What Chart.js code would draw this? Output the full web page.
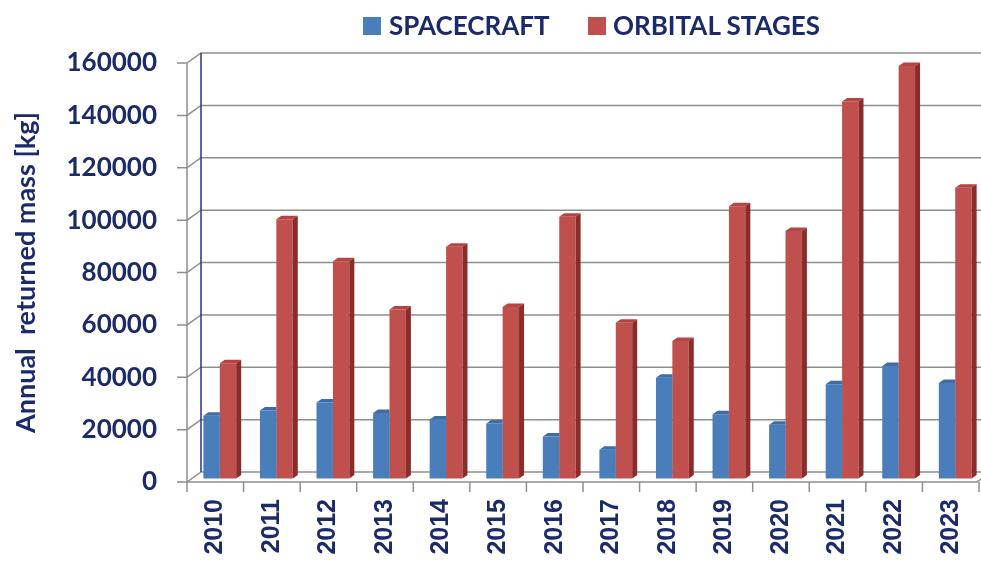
<!DOCTYPE html>
<html>
<head>
<meta charset="utf-8">
<title>Annual returned mass</title>
<script src="https://cdn.jsdelivr.net/npm/chart.js@4.4.0/dist/chart.umd.min.js"></script>
<style>
    html, body { margin: 0; padding: 0; background: #fff; }
    #wrap { position: relative; width: 981px; height: 563px; }
    #legend { position: absolute; top: 0; left: 0; font: bold 26px Lato, sans-serif; color: #1b2a6b; }
    .item { position: absolute; top: 10px; white-space: nowrap; line-height: 30px; }
    .box { position: absolute; width: 18px; height: 18px; }
</style>
</head>
<body>
<div id="wrap">
    <canvas id="myChart" width="981" height="563"></canvas>
    <div id="legend"></div>
</div>
<script>
const years = ["2010", "2011", "2012", "2013", "2014", "2015", "2016",
               "2017", "2018", "2019", "2020", "2021", "2022", "2023"];
const spacecraft = [24000, 26000, 29000, 25000, 22500, 21000, 16000,
                    11000, 38500, 24500, 20500, 36000, 43000, 36500];
const orbitalStages = [44000, 99000, 83000, 64500, 88500, 65500, 100000,
                       59500, 52500, 104000, 94500, 144000, 157500, 111000];
const seriesNames = ["SPACECRAFT", "ORBITAL STAGES"];
const yTicks = [0, 20000, 40000, 60000, 80000, 100000, 120000, 140000, 160000];

const navy = "#1b2a6b";
const front = ["#4a7ebb", "#c0504d"];
const capColor = ["#3d6ca6", "#b44543"];
const sideColor = ["#2f5487", "#8a2c2a"];

// depth of the box (back wall) and of each bar
const wall = { dx: 14, dy: -10 };
const bar = { dx: 5, dy: -3.5 };
const shift = { x: 4.5, y: -3.5 };

const legend = document.getElementById("legend");
const legendPos = [{ box: 363, text: 389 }, { box: 588, text: 613 }];
seriesNames.forEach((name, i) => {
    const box = document.createElement("div");
    box.className = "box";
    box.style.left = legendPos[i].box + "px";
    box.style.top = "17px";
    box.style.background = front[i];
    legend.appendChild(box);
    const txt = document.createElement("div");
    txt.className = "item";
    txt.style.left = legendPos[i].text + "px";
    txt.textContent = name;
    legend.appendChild(txt);
});

const boxPlugin = {
    id: "box3d",
    beforeDatasetsDraw(chart) {
        const ctx = chart.ctx;
        const a = chart.chartArea;
        const x = chart.scales.x;
        const y = chart.scales.y;
        ctx.save();
        ctx.lineWidth = 1.5;
        ctx.strokeStyle = "#8e8e8e";
        yTicks.forEach(v => {
            const py = y.getPixelForValue(v);
            ctx.beginPath();
            ctx.moveTo(a.left - 10, py);
            ctx.lineTo(a.left, py);
            ctx.lineTo(a.left + wall.dx, py + wall.dy);
            ctx.lineTo(chart.width, py + wall.dy);
            ctx.stroke();
        });
        ctx.beginPath();
        ctx.moveTo(a.left, a.top);
        ctx.lineTo(a.left, a.bottom);
        ctx.stroke();

        // floor front edge and category ticks
        const step = x.width / years.length;
        ctx.beginPath();
        ctx.moveTo(a.left, a.bottom);
        ctx.lineTo(a.right - 2, a.bottom);
        ctx.lineTo(a.right - 2 + wall.dx, a.bottom + wall.dy);
        ctx.stroke();
        for (let i = 0; i <= years.length; i++) {
            const px = a.left + step * i;
            ctx.beginPath();
            ctx.moveTo(px, a.bottom);
            ctx.lineTo(px, a.bottom + 10);
            ctx.stroke();
        }

        ctx.strokeStyle = "#26367c";
        ctx.beginPath();
        ctx.moveTo(a.left + wall.dx, a.top + wall.dy);
        ctx.lineTo(a.left + wall.dx, a.bottom + wall.dy);
        ctx.stroke();
        ctx.restore();

        // bars stand in the middle of the box depth
        ctx.save();
        ctx.translate(shift.x, shift.y);
    },
    afterDatasetDraw(chart, args) {
        const ctx = chart.ctx;
        const i = args.index;
        args.meta.data.forEach(el => {
            const p = el.getProps(["x", "y", "base", "width"], true);
            const left = p.x - p.width / 2;
            const right = p.x + p.width / 2;
            const top = Math.min(p.y, p.base);
            ctx.save();
            if (i === 0) {
                // the neighbouring red bar hides the rest of the blue one
                ctx.beginPath();
                ctx.rect(left, 0, p.width, chart.height);
                ctx.clip();
            }
            ctx.fillStyle = capColor[i];
            ctx.beginPath();
            ctx.moveTo(left, top);
            ctx.lineTo(right, top);
            ctx.lineTo(right + bar.dx, top + bar.dy);
            ctx.lineTo(left + bar.dx, top + bar.dy);
            ctx.closePath();
            ctx.fill();
            ctx.fillStyle = sideColor[i];
            ctx.beginPath();
            ctx.moveTo(right, top);
            ctx.lineTo(right + bar.dx, top + bar.dy);
            ctx.lineTo(right + bar.dx, p.base + bar.dy);
            ctx.lineTo(right, p.base);
            ctx.closePath();
            ctx.fill();
            ctx.restore();
        });
    },
    afterDatasetsDraw(chart) {
        chart.ctx.restore();
    }
};

new Chart(document.getElementById("myChart"), {
    type: "bar",
    data: {
        labels: years,
        datasets: [{
            label: seriesNames[0],
            data: spacecraft,
            backgroundColor: front[0],
            borderWidth: 0,
            clip: false
        }, {
            label: seriesNames[1],
            data: orbitalStages,
            backgroundColor: front[1],
            borderWidth: 0,
            clip: false
        }]
    },
    options: {
        responsive: false,
        animation: false,
        layout: { padding: { top: 63, right: 2, left: 0, bottom: 0 } },
        categoryPercentage: 0.58,
        barPercentage: 1.0,
        plugins: {
            legend: { display: false },
            tooltip: { enabled: false }
        },
        scales: {
            x: {
                grid: { display: false, drawTicks: false },
                border: { display: false },
                ticks: {
                    autoSkip: false,
                    minRotation: 90,
                    maxRotation: 90,
                    padding: 17,
                    color: navy,
                    font: { family: "'Liberation Sans', Arial, sans-serif", weight: "bold", size: 25 }
                },
                afterFit(scale) {
                    scale.height = 81;
                    scale.paddingLeft = 0;
                    scale.paddingRight = 0;
                }
            },
            y: {
                min: 0,
                max: 160000,
                grid: { display: false, drawTicks: false },
                border: { display: false },
                ticks: {
                    stepSize: 20000,
                    padding: 30,
                    color: navy,
                    font: { family: "Lato, sans-serif", weight: "bold", size: 26 },
                    callback: v => String(v)
                },
                title: {
                    display: true,
                    text: "Annual  returned mass [kg]",
                    color: navy,
                    padding: { top: 10, bottom: 0 },
                    font: { family: "Lato, sans-serif", weight: "bold", size: 27 }
                },
                afterFit(scale) {
                    scale.width = 187;
                    scale.paddingTop = 0;
                    scale.paddingBottom = 0;
                }
            }
        }
    },
    plugins: [boxPlugin]
});
</script>
</body>
</html>
